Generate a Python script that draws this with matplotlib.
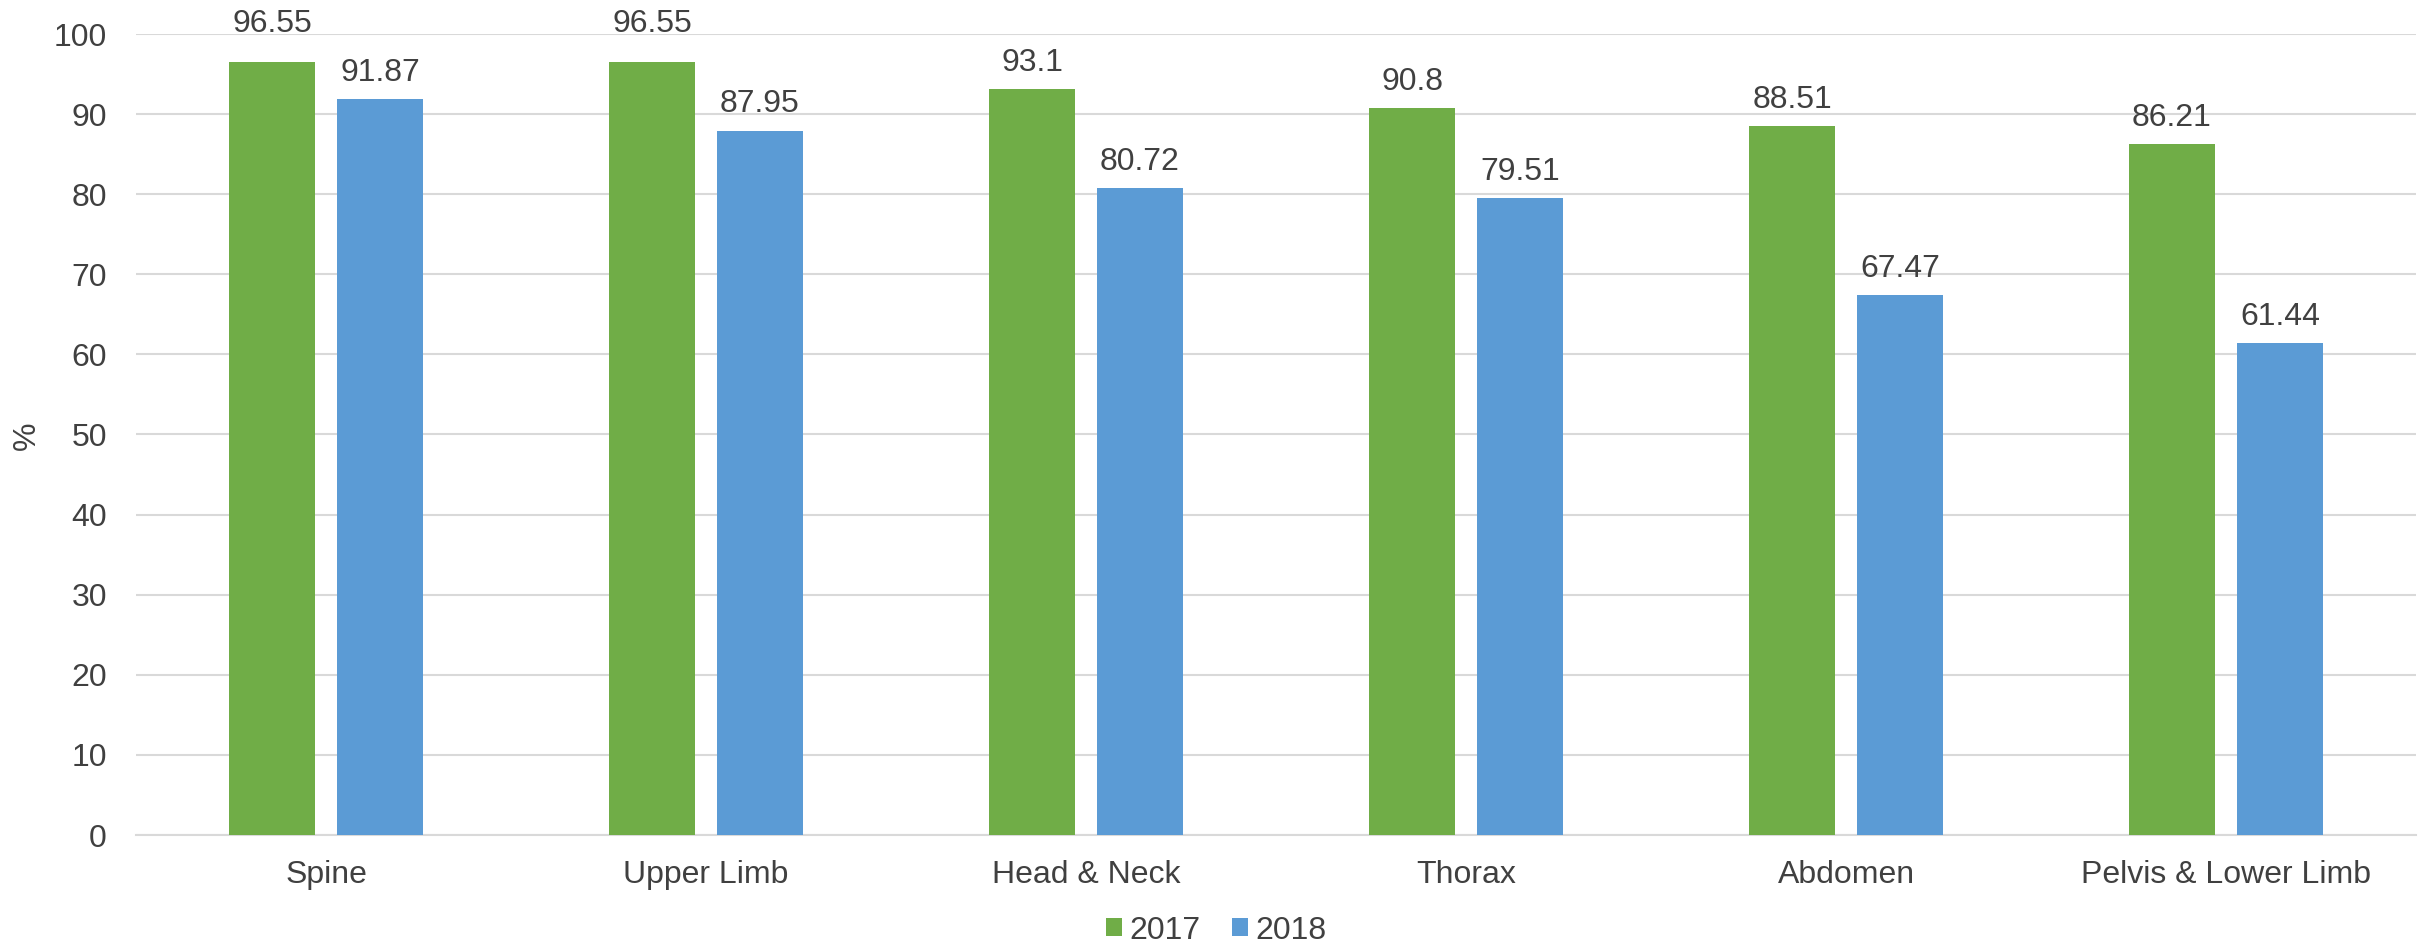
import numpy as np
import matplotlib.pyplot as plt

# Datos por región anatómica
categorias = ["Spine", "Upper Limb", "Head & Neck", "Thorax", "Abdomen", "Pelvis & Lower Limb"]
valores_2017 = [96.55, 96.55, 93.1, 90.8, 88.51, 86.21]
valores_2018 = [91.87, 87.95, 80.72, 79.51, 67.47, 61.44]
ticks_y = [0, 10, 20, 30, 40, 50, 60, 70, 80, 90, 100]

verde = "#70AD47"
azul = "#5B9BD5"
gris_texto = "#404040"
gris_linea = "#D9D9D9"
tam = 23

plt.rcParams['font.family'] = ['Liberation Sans', 'DejaVu Sans']

fig = plt.figure(figsize=(24.32, 9.46), dpi=100)
ax = fig.add_axes([136 / 2432, 1 - 835 / 946, (2416 - 136) / 2432, (835 - 34) / 946])

x = np.arange(len(categorias))
ancho = 0.224
desp = 0.142

barras_17 = ax.bar(x - desp, valores_2017, ancho, color=verde, label="2017", zorder=3)
barras_18 = ax.bar(x + desp, valores_2018, ancho, color=azul, label="2018", zorder=3)

ax.set_xlim(-0.5, len(categorias) - 0.5)
ax.set_ylim(0, 100)
ax.set_yticks(ticks_y)
ax.set_xticks(x)
ax.set_xticklabels(categorias)

ax.yaxis.grid(True, color=gris_linea, linewidth=1.5, zorder=0)
ax.set_axisbelow(True)
for lado in ["top", "right", "left"]:
    ax.spines[lado].set_visible(False)
ax.spines["bottom"].set_color(gris_linea)
ax.spines["bottom"].set_linewidth(1.5)

ax.tick_params(axis="both", length=0, labelsize=tam, labelcolor=gris_texto)
ax.tick_params(axis="y", pad=21)
ax.tick_params(axis="x", pad=18)

# Título del eje Y
fig.text(27 / 2432, 1 - 436 / 946, "%", rotation=90, ha="center", va="center",
         fontsize=tam, color=gris_texto)

# Etiquetas de valor sobre cada barra; las que cruzarían la línea de 100 se apoyan encima
for barras in (barras_17, barras_18):
    for b in barras:
        v = b.get_height()
        xc = b.get_x() + b.get_width() / 2
        if v > 94:
            ax.annotate(f"{v:g}", (xc, 100), xytext=(0, 1.5), textcoords="offset points",
                        ha="center", va="baseline", fontsize=tam, color=gris_texto)
        else:
            ax.annotate(f"{v:g}", (xc, v), xytext=(0, 13), textcoords="offset points",
                        ha="center", va="baseline", fontsize=tam, color=gris_texto)

fig.legend(handles=[barras_17, barras_18], labels=["2017", "2018"], loc="lower center",
           bbox_to_anchor=(0.5, -0.03), ncol=2, frameon=False, fontsize=tam,
           handlelength=0.5, handleheight=0.5, handletextpad=0.22, columnspacing=1.0,
           labelcolor=gris_texto)

fig.savefig("out.png", dpi=100)
